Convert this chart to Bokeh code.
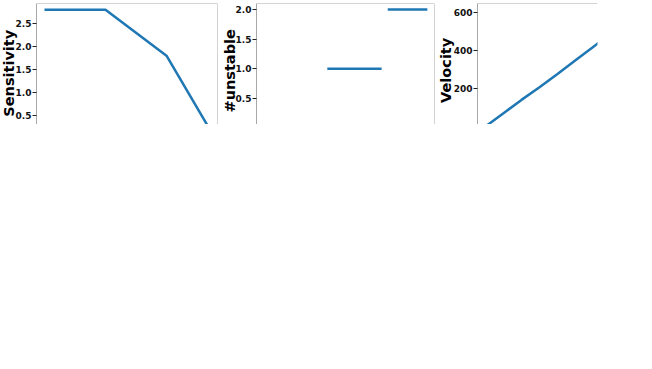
import math
from bokeh.plotting import figure
from bokeh.layouts import row
from bokeh.models import FixedTicker, Span
from bokeh.core.properties import value
from bokeh.embed import file_html
from bokeh.resources import INLINE

# ---- data ----
steps = [0, 1, 2, 2.7]
sensitivity = [2.8, 2.8, 1.8, 0.22]

unstable_x = [0, 0.92, float("nan"), 1.03, 1.92, float("nan"), 2.02, 2.67]
unstable_y = [0, 0, float("nan"), 1, 1, float("nan"), 2, 2]

vel_x = [0, 0.3, 0.6, 0.9, 1.2, 1.5, 1.8, 2.1, 2.4, 2.7]
velocity = [0, 70, 140, 206, 276, 348, 420, 490, 557, 616]

y_labels = ["Sensitivity", "#unstable", "Velocity"]

sens_ticks = [0.5, 1.0, 1.5, 2.0, 2.5]
sens_tick_labels = ["0.5", "1.0", "1.5", "2.0", "2.5"]
unst_ticks = [0.5, 1.0, 1.5, 2.0]
unst_tick_labels = ["0.5", "1.0", "1.5", "2.0"]
vel_ticks = [0, 200, 400, 600]
vel_tick_labels = ["0", "200", "400", "600"]

BLUE = "#1f77b4"
SPINE = "#a8a8a8"
FONT = "DejaVu Sans"
H = 124


def label_fig(width, text, cx, cy):
    f = figure(width=width, height=H, x_range=(0, width), y_range=(0, H),
               output_backend="svg", toolbar_location=None,
               x_axis_location=None, y_axis_location=None,
               min_border_left=0, min_border_right=0,
               min_border_top=0, min_border_bottom=0)
    f.outline_line_color = None
    f.grid.visible = False
    f.border_fill_color = None
    f.text(x=[cx], y=[cy], text=[text], angle=math.pi / 2,
           text_align="center", text_baseline="middle",
           text_font=value(FONT), text_font_style="bold",
           text_font_size="14.5px", text_color="#000000")
    return f


def make(width, left, right, xr, yr, ticks, labels, shift, spine_right=True):
    p = figure(width=width, height=H, x_range=xr, y_range=yr,
               output_backend="svg", toolbar_location=None,
               x_axis_location=None,
               min_border_left=left, min_border_right=right,
               min_border_top=3, min_border_bottom=0,
               margin=(0, 0, 0, shift))
    p.outline_line_color = None
    p.grid.visible = False
    p.border_fill_color = None
    p.background_fill_color = "white"
    ax = p.yaxis[0]
    ax.ticker = FixedTicker(ticks=ticks)
    ax.major_label_overrides = {t: l for t, l in zip(ticks, labels)}
    ax.minor_tick_line_color = None
    ax.major_tick_in = 0
    ax.major_tick_out = 4
    ax.major_tick_line_color = "#222222"
    ax.axis_line_color = SPINE
    ax.major_label_text_font = FONT
    ax.major_label_text_font_style = "bold"
    ax.major_label_text_font_size = "9px"
    ax.major_label_text_color = "#111111"
    ax.major_label_standoff = 1
    p.add_layout(Span(location=yr[1], dimension="width", line_color=SPINE, line_width=1))
    if spine_right:
        p.add_layout(Span(location=xr[1], dimension="height", line_color=SPINE, line_width=1))
    return p


l1 = label_fig(19, y_labels[0], 8.5, 52.5)
p1 = make(209, 25, 3, (-0.131, 2.836), (0.304, 2.935), sens_ticks, sens_tick_labels, -8)
p1.line(steps, sensitivity, line_color=BLUE, line_width=2.5)

l2 = label_fig(19, y_labels[1], 9, 55)
p2 = make(206, 25, 3, (-0.131, 2.787), (0.0615, 2.101), unst_ticks, unst_tick_labels, -8)
p2.line(unstable_x, unstable_y, line_color=BLUE, line_width=2.5)

l3 = label_fig(19, y_labels[2], 8, 55.5)
p3 = make(205, 30, 55, (-0.133, 1.867), (10.5, 647), vel_ticks, vel_tick_labels, -9,
          spine_right=False)
p3.line(vel_x, velocity, line_color=BLUE, line_width=2.5)

layout = row(l1, p1, l2, p2, l3, p3)

open("out.html", "w").write(file_html(layout, INLINE))
